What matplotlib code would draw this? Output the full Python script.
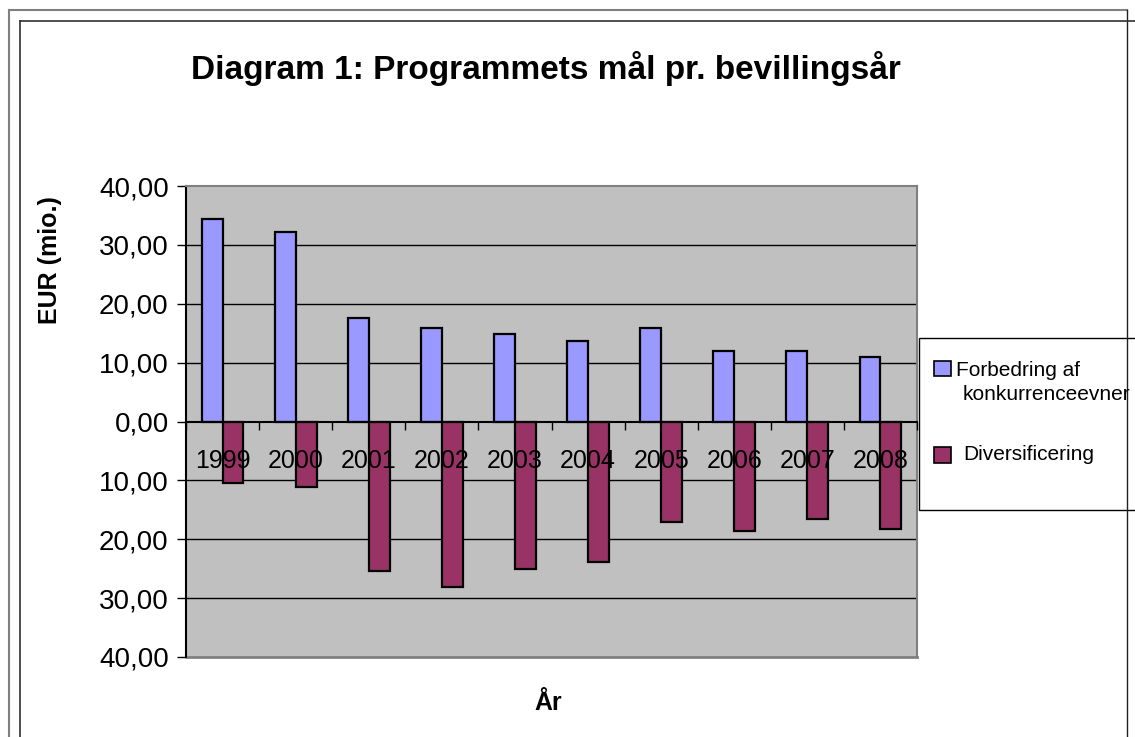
import numpy as np
import matplotlib.pyplot as plt
from matplotlib.lines import Line2D
from matplotlib.patches import Rectangle
from matplotlib.ticker import FuncFormatter, FixedLocator

plt.rcParams['font.family'] = ['Liberation Sans', 'DejaVu Sans']

# ---------------------------------------------------------------------------
# Data (EUR mio. per bevillingsår)
# ---------------------------------------------------------------------------
years = ['1999', '2000', '2001', '2002', '2003', '2004', '2005', '2006', '2007', '2008']
konkurrence = [34.4, 32.2, 17.6, 15.9, 14.9, 13.6, 15.9, 12.0, 12.0, 11.0]
diversificering = [10.4, 11.1, 25.4, 28.1, 25.1, 23.8, 17.0, 18.6, 16.6, 18.2]
series_labels = ['Forbedring af\nkonkurrenceevner', 'Diversificering']
yticks = [-40, -30, -20, -10, 0, 10, 20, 30, 40]

BLUE = '#9999FF'
PLUM = '#993366'
W, H = 1135, 737


def fx(px):
    return px / W


def fy(py):
    return 1 - py / H


fig = plt.figure(figsize=(W / 100, H / 100), dpi=100)
ax = fig.add_axes([fx(186), fy(657), (917 - 186) / W, (657 - 186) / H])
ax.set_facecolor('#C0C0C0')

x = np.arange(len(years))
bw = 0.286
ax.bar(x - bw / 2, konkurrence, bw, color=BLUE, edgecolor='black', linewidth=1.6, zorder=2)
# diversificering is drawn downwards
ax.bar(x + bw / 2, -np.array(diversificering), bw, color=PLUM, edgecolor='black',
       linewidth=1.6, zorder=2)

ax.set_xlim(-0.5, len(years) - 0.5)
ax.set_ylim(-40, 40)

# y axis: absolute values with comma decimals
ax.yaxis.set_major_locator(FixedLocator(yticks))
ax.yaxis.set_major_formatter(FuncFormatter(lambda v, p: f"{abs(v):.2f}".replace('.', ',')))
ax.tick_params(axis='y', direction='out', length=6.5, width=1, pad=6, labelsize=20)
for v in yticks[1:-1]:
    if v != 0:
        ax.axhline(v, color='black', lw=1, zorder=1)

# x axis sits on zero, labels drawn over the bars
ax.spines['bottom'].set_position(('data', 0))
ax.spines['bottom'].set_linewidth(1.5)
ax.spines['bottom'].set_zorder(4)
ax.xaxis.set_zorder(5)
ax.set_xticks(x)
ax.set_xticklabels(years)
ax.set_xticks(np.arange(-0.5, len(years), 1), minor=True)
ax.tick_params(axis='x', which='major', length=0, pad=20, labelsize=18)
ax.tick_params(axis='x', which='minor', direction='out', length=6, width=1)
ax.spines['left'].set_linewidth(1.5)
for s in ('top', 'right'):
    ax.spines[s].set_color('#808080')
    ax.spines[s].set_linewidth(1.5)
ax.plot([0, 1], [0, 0], transform=ax.transAxes, color='#808080', lw=2, clip_on=False)

# titles
fig.text(fx(546), fy(68), 'Diagram 1: Programmets mål pr. bevillingsår',
         ha='center', va='center', fontsize=24, fontweight='bold')
fig.text(fx(50), fy(260), 'EUR (mio.)', rotation=90, ha='center', va='center',
         fontsize=18, fontweight='bold')
fig.text(fx(548), fy(703), 'År', ha='center', va='center', fontsize=18, fontweight='bold')

# chart frame
fig.add_artist(Line2D([fx(9), fx(1127)], [fy(10), fy(10)], color='#808080', lw=1.5))
fig.add_artist(Line2D([fx(9), fx(9)], [fy(10), fy(737)], color='#808080', lw=1.5))
fig.add_artist(Line2D([fx(1127), fx(1127)], [fy(10), fy(737)], color='#202020', lw=1))
fig.add_artist(Line2D([fx(20), fx(1135)], [fy(21), fy(21)], color='#303030', lw=1.2))
fig.add_artist(Line2D([fx(20), fx(20)], [fy(21), fy(737)], color='#303030', lw=1.2))

# legend box (runs off the right edge like the original)
fig.add_artist(Rectangle((fx(919), fy(510)), fx(1160) - fx(919), fy(338) - fy(510),
                         facecolor='white', edgecolor='black', lw=1))
fig.add_artist(Rectangle((fx(934), fy(376)), fx(17), fy(361) - fy(376),
                         facecolor=BLUE, edgecolor='black', lw=1.2))
fig.add_artist(Rectangle((fx(934), fy(463)), fx(17), fy(447) - fy(463),
                         facecolor=PLUM, edgecolor='black', lw=1.2))
fig.text(fx(956), fy(370), 'Forbedring af', ha='left', va='center', fontsize=15)
fig.text(fx(963), fy(395), 'konkurrenceevner', ha='left', va='center', fontsize=15)
fig.text(fx(963), fy(455), series_labels[1], ha='left', va='center', fontsize=15)

fig.savefig('out.png', dpi=100)
